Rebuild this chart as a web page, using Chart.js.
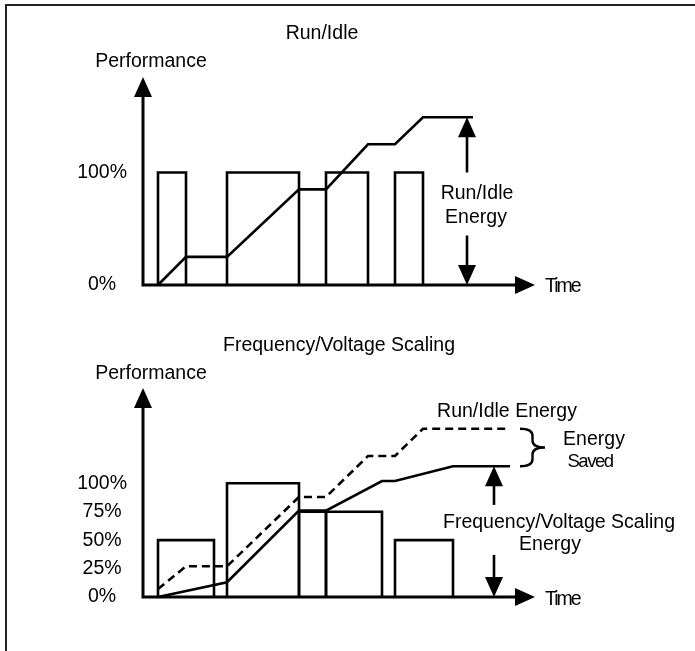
<!DOCTYPE html>
<html>
<head>
<meta charset="utf-8">
<title>Run/Idle vs Frequency/Voltage Scaling</title>
<script src="https://cdn.jsdelivr.net/npm/chart.js@4"></script>
<style>
html,body{margin:0;padding:0;background:#fff;}
#page{position:relative;width:695px;height:651px;overflow:hidden;font-family:"Liberation Sans",Arial,sans-serif;color:#000;}
#frame{position:absolute;left:5px;top:4px;width:720px;height:680px;border-top:2px solid #222;border-left:2px solid #222;}
canvas{position:absolute;left:0;}
.lbl{position:absolute;font-size:19.5px;line-height:1;white-space:nowrap;transform:translate(-50%,-50%);}
.left{transform:translate(0,-50%);}
</style>
</head>
<body>
<div id="page">
<div id="frame"></div>
<canvas id="runChart" width="695" height="325" style="top:0;width:695px;height:325px"></canvas>
<canvas id="dvsChart" width="695" height="326" style="top:325px;width:695px;height:326px"></canvas>

<div class="lbl" style="left:322px;top:33px">Run/Idle</div>
<div class="lbl" style="left:151px;top:61px">Performance</div>
<div class="lbl" style="left:477px;top:193px">Run/Idle</div>
<div class="lbl" style="left:476px;top:217px">Energy</div>
<div class="lbl left" style="left:545px;top:286px;letter-spacing:-2px">Time</div>

<div class="lbl" style="left:339px;top:345px">Frequency/Voltage Scaling</div>
<div class="lbl" style="left:151px;top:373px">Performance</div>
<div class="lbl" style="left:507px;top:411px">Run/Idle Energy</div>
<div class="lbl" style="left:594px;top:439px">Energy</div>
<div class="lbl" style="left:590px;top:461px;font-size:18.5px;letter-spacing:-1.5px">Saved</div>
<div class="lbl" style="left:559px;top:522px">Frequency/Voltage Scaling</div>
<div class="lbl" style="left:550px;top:544px">Energy</div>
<div class="lbl left" style="left:545px;top:599px;letter-spacing:-2px">Time</div>
</div>

<script>
// =========================
// Run/Idle panel data
// =========================

const runBarStart = [1.5, 8.4, 18.3, 25.2];
const runBarEnd   = [4.3, 15.6, 22.5, 28.0];
const runBarLevel = [100, 100, 100, 100];

const runEnergyT  = [1.5, 4.3, 8.4, 15.6, 18.3, 22.5, 25.2, 28.0, 33.0];
const runEnergy   = [0, 25, 25, 85, 85, 125, 125, 149, 149];

const runTicks    = [0, 100];
const runArrowX   = 32.4;
const runArrowUp  = [100, 149];   // tail, tip
const runArrowDn  = [44, 0];


// =========================
// Frequency/Voltage Scaling panel data
// =========================

const dvsBarStart = [1.5, 8.4, 15.6, 18.3, 25.2];
const dvsBarEnd   = [7.1, 15.6, 18.3, 23.9, 31.0];
const dvsBarLevel = [50, 100, 75, 75, 50];

const dvsEnergyT  = [1.5, 8.4, 15.6, 18.3, 23.9, 25.2, 31.0, 36.7];
const dvsEnergy   = [0, 13, 76, 76, 102, 102, 115, 115];

const idleEnergyT = [1.5, 4.3, 8.4, 15.6, 18.3, 22.5, 25.2, 28.0, 36.7];
const idleEnergy  = [7, 27, 27, 88, 88, 124, 124, 148, 148];

const dvsTicks    = [0, 25, 50, 75, 100];
const dvsArrowX   = 35.1;
const dvsArrowUp  = [81, 115];
const dvsArrowDn  = [37, 0];
const savedBraceX = [37.7, 40.2];
const savedBraceY = [148, 115];


// =========================
// Shared axis ranges
// =========================

const timeMax  = 39.2;
const perfMaxTop = 184.8;
const perfMaxBottom = 183.8;

const axisLeft = 143;
const ink = "#000";
const fontFamily = '"Liberation Sans", Arial, sans-serif';


// =========================
// Helpers
// =========================

function barOutline(x0, x1, h){
    return [{x:x0,y:0},{x:x0,y:h},{x:x1,y:h},{x:x1,y:0}];
}

function series(t, v){
    return t.map((x,i)=>({x:x, y:v[i]}));
}

function arrowHead(ctx, x, y, dir){
    const L = 20, W = 9;
    ctx.beginPath();
    if(dir=="up"){ ctx.moveTo(x,y); ctx.lineTo(x-W,y+L); ctx.lineTo(x+W,y+L); }
    if(dir=="down"){ ctx.moveTo(x,y); ctx.lineTo(x-W,y-L); ctx.lineTo(x+W,y-L); }
    if(dir=="right"){ ctx.moveTo(x,y); ctx.lineTo(x-L,y-W); ctx.lineTo(x-L,y+W); }
    ctx.closePath();
    ctx.fill();
}

function vArrow(ctx, xs, ys, x, tail, tip){
    const px = xs.getPixelForValue(x);
    const p0 = ys.getPixelForValue(tail);
    const p1 = ys.getPixelForValue(tip);
    const up = p1 < p0;
    ctx.beginPath();
    ctx.moveTo(px, p0);
    ctx.lineTo(px, up ? p1 + 12 : p1 - 12);
    ctx.stroke();
    arrowHead(ctx, px, p1, up ? "up" : "down");
}


// =========================
// Build one panel
// =========================

function buildChart(canvasId, cfg){

    const datasets = [];

    cfg.barStart.forEach((s,i)=>{
        datasets.push({
            data: barOutline(s, cfg.barEnd[i], cfg.barLevel[i]),
            borderColor: ink, borderWidth: 2.6,
            pointRadius: 0, fill: false, tension: 0, clip: false
        });
    });

    cfg.lines.forEach(l=>{
        datasets.push({
            data: series(l.t, l.v),
            borderColor: ink, borderWidth: 2.6,
            borderDash: l.dash || [],
            pointRadius: 0, fill: false, tension: 0, clip: false
        });
    });

    const diagram = {
        id: "diagram",
        beforeDatasetsDraw(chart){
            const ctx = chart.ctx;
            const xs = chart.scales.x, ys = chart.scales.y;
            const x0 = xs.getPixelForValue(0), y0 = ys.getPixelForValue(0);
            const xEnd = xs.getPixelForValue(timeMax), yTop = ys.getPixelForValue(cfg.yMax);
            ctx.save();
            ctx.strokeStyle = ink; ctx.fillStyle = ink;
            ctx.lineWidth = 3; ctx.lineCap = "butt";
            ctx.beginPath();
            ctx.moveTo(x0, y0); ctx.lineTo(x0, yTop + 12);
            ctx.moveTo(x0 - 1.5, y0); ctx.lineTo(xEnd - 12, y0);
            ctx.stroke();
            arrowHead(ctx, x0, yTop, "up");
            arrowHead(ctx, xEnd, y0, "right");
            ctx.restore();
        },
        afterDatasetsDraw(chart){
            const ctx = chart.ctx;
            const xs = chart.scales.x, ys = chart.scales.y;
            ctx.save();
            ctx.strokeStyle = ink; ctx.fillStyle = ink; ctx.lineWidth = 2.6;
            vArrow(ctx, xs, ys, cfg.arrowX, cfg.arrowUp[0], cfg.arrowUp[1]);
            vArrow(ctx, xs, ys, cfg.arrowX, cfg.arrowDn[0], cfg.arrowDn[1]);
            if(cfg.braceX){
                const bx0 = xs.getPixelForValue(cfg.braceX[0]);
                const bx2 = xs.getPixelForValue(cfg.braceX[1]);
                const bx1 = bx0 + (bx2 - bx0) * 0.5;
                const bt = ys.getPixelForValue(cfg.braceY[0]);
                const bb = ys.getPixelForValue(cfg.braceY[1]);
                const bm = (bt + bb) / 2, r = 7;
                ctx.lineWidth = 2.4;
                ctx.beginPath();
                ctx.moveTo(bx0, bt);
                ctx.quadraticCurveTo(bx1, bt, bx1, bt + r);
                ctx.lineTo(bx1, bm - r);
                ctx.quadraticCurveTo(bx1, bm, bx2, bm);
                ctx.quadraticCurveTo(bx1, bm, bx1, bm + r);
                ctx.lineTo(bx1, bb - r);
                ctx.quadraticCurveTo(bx1, bb, bx0, bb);
                ctx.stroke();
            }
            ctx.restore();
        }
    };

    return new Chart(document.getElementById(canvasId), {
        type: "line",
        data: { datasets },
        options: {
            responsive: false,
            animation: false,
            events: [],
            layout: { padding: cfg.padding },
            plugins: { legend:{display:false}, tooltip:{enabled:false} },
            scales: {
                x: { type:"linear", min:0, max:timeMax, display:false },
                y: {
                    type:"linear", min:0, max:cfg.yMax,
                    grid:{display:false, drawTicks:false},
                    border:{display:false},
                    afterBuildTicks: s => { s.ticks = cfg.ticks.map(v=>({value:v})); },
                    afterFit: s => { s.width = axisLeft; },
                    ticks:{
                        autoSkip:false, padding:16, crossAlign:"center",
                        color:ink, font:{family:fontFamily, size:19.5},
                        callback: v => v + "%"
                    }
                }
            }
        },
        plugins: [diagram]
    });
}


// =========================
// Draw both panels
// =========================

buildChart("runChart", {
    barStart: runBarStart, barEnd: runBarEnd, barLevel: runBarLevel,
    lines: [ {t: runEnergyT, v: runEnergy} ],
    yMax: perfMaxTop, ticks: runTicks,
    arrowX: runArrowX, arrowUp: runArrowUp, arrowDn: runArrowDn,
    padding: {left:0, top:77, right:160, bottom:40}
});

buildChart("dvsChart", {
    barStart: dvsBarStart, barEnd: dvsBarEnd, barLevel: dvsBarLevel,
    lines: [ {t: idleEnergyT, v: idleEnergy, dash:[8,5]}, {t: dvsEnergyT, v: dvsEnergy} ],
    yMax: perfMaxBottom, ticks: dvsTicks,
    arrowX: dvsArrowX, arrowUp: dvsArrowUp, arrowDn: dvsArrowDn,
    braceX: savedBraceX, braceY: savedBraceY,
    padding: {left:0, top:63, right:160, bottom:54}
});
</script>
</body>
</html>
